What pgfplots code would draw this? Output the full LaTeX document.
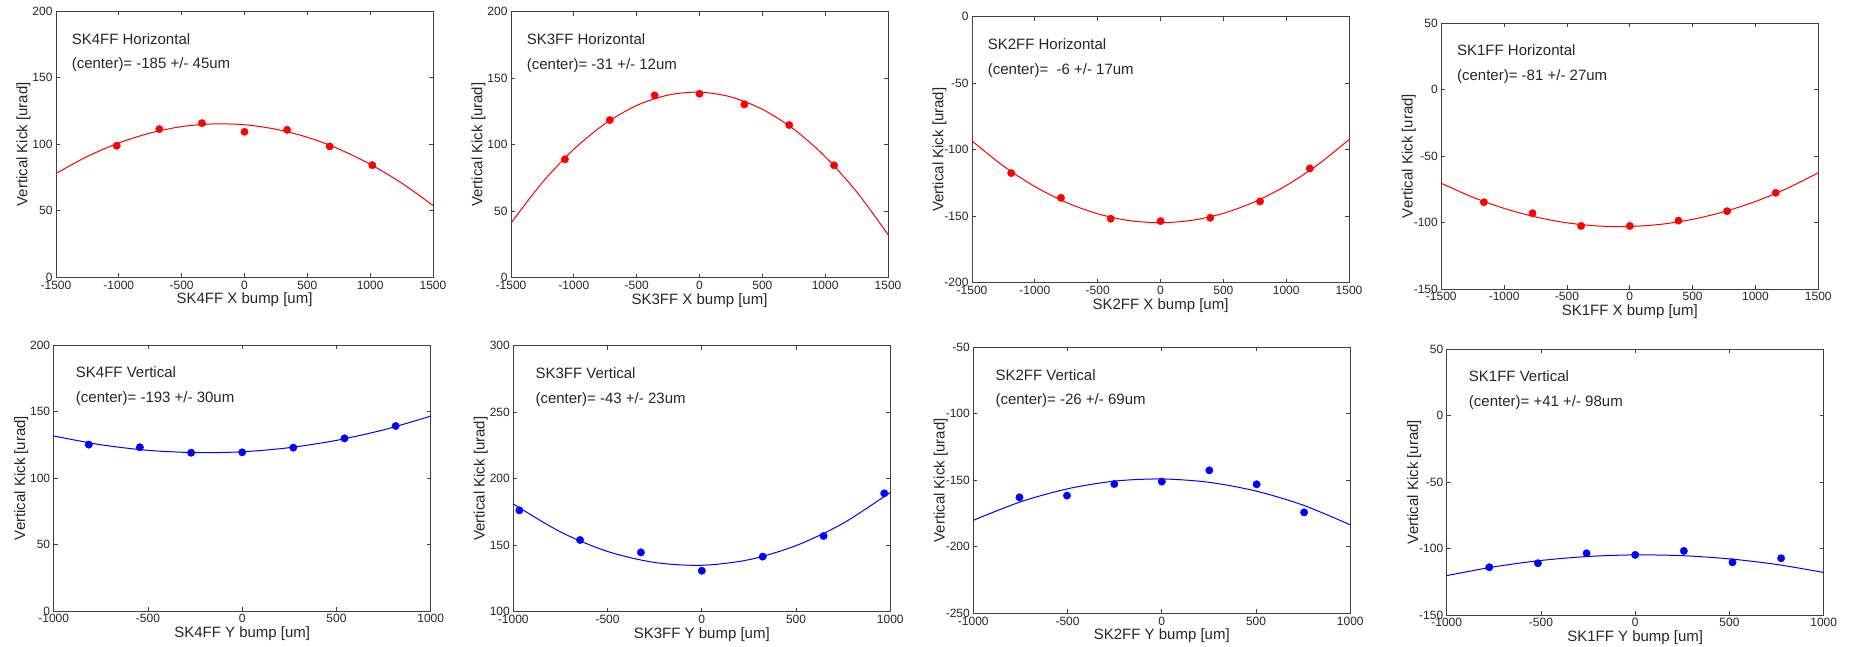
\documentclass[border=0pt]{standalone}
\usepackage{fontspec}
\setmainfont{Liberation Sans}
\usepackage{pgfplots}
\pgfplotsset{compat=1.18}
\definecolor{gpred}{RGB}{255,0,0}
\definecolor{gpblue}{RGB}{0,0,255}
\pgfplotsset{
  gp/.style={
    scale only axis, width=377pt, height=266pt, anchor=south west,
    axis line style={black!75, line width=0.9pt},
    tick style={black!75, line width=0.8pt},
    major tick length=4pt, tick align=inside,
    tick label style={font=\fontsize{12}{14}\selectfont, text=black!85},
    label style={font=\fontsize{15}{18}\selectfont, text=black!85},
    xlabel style={at={(axis description cs:0.5,-0.099)}, anchor=base},
    ylabel style={at={(axis description cs:-0.076,0.5)}, anchor=base},
    ylabel={Vertical Kick [urad]},
    /pgf/number format/assume math mode=true,
    /pgf/number format/1000 sep={},
    scaled ticks=false,
  },
  toprow/.style={gp, xmin=-1500, xmax=1500, xtick={-1500,-1000,...,1500}},
  botrow/.style={gp, xmin=-1000, xmax=1000, xtick={-1000,-500,...,1000}},
  pts/.style={only marks, mark=*, mark size=3.7pt, #1, mark options={draw=#1, fill=#1}},
  fit/.style={#1, line width=1pt, smooth, no markers},
}
\newcommand{\anno}[4]{%
  \node[anchor=base west, font=\fontsize{15}{18}\selectfont, text=black!85] at (axis description cs:#1,0.877) {#3};
  \node[anchor=base west, font=\fontsize{15}{18}\selectfont, text=black!85] at (axis description cs:#1,0.784) {#4};}
\begin{document}
\begin{tikzpicture}
\path[use as bounding box] (0pt,0pt) rectangle (1852pt,647pt);

% ---------- Top row ----------
\begin{axis}[toprow, at={(56pt,369.7pt)}, ymin=0, ymax=200, ytick={0,50,...,200}, xlabel={SK4FF X bump [um]}]
\addplot[fit=gpred] coordinates {(-1500,78.0)(-1250,90.9)(-1000,101.0)(-750,108.5)(-500,113.3)(-250,115.3)(0,114.7)(250,111.3)(500,105.3)(750,96.5)(1000,85.0)(1250,70.9)(1500,54.0)};
\addplot[pts=gpred] coordinates {(-1017,98.9)(-678,111.4)(-339,115.9)(0,109.4)(339,110.9)(678,98.4)(1017,84.3)};
\anno{0.0326}{}{SK4FF Horizontal}{(center)= -185 +/- 45um}
\end{axis}

\begin{axis}[toprow, at={(511pt,369.3pt)}, ymin=0, ymax=200, ytick={0,50,...,200}, xlabel={SK3FF X bump [um]}]
\addplot[fit=gpred] coordinates {(-1500,41.0)(-1250,71.7)(-1000,96.6)(-750,115.9)(-500,129.5)(-250,137.3)(0,139.5)(250,135.9)(500,126.6)(750,111.7)(1000,91.0)(1250,64.6)(1500,32.5)};
\addplot[pts=gpred] coordinates {(-1071,89.0)(-714,118.5)(-357,137.1)(0,138.3)(357,130.3)(714,114.8)(1071,84.5)};
\anno{0.0326}{}{SK3FF Horizontal}{(center)= -31 +/- 12um}
\end{axis}

\begin{axis}[toprow, at={(972pt,364.3pt)}, ymin=-200, ymax=0, ytick={-200,-150,...,0}, xlabel={SK2FF X bump [um]}]
\addplot[fit=gpred] coordinates {(-1500,-93.4)(-1250,-112.3)(-1000,-127.7)(-750,-139.65)(-500,-148.2)(-250,-153.3)(0,-154.9)(250,-153.1)(500,-147.85)(750,-139.15)(1000,-127.0)(1250,-111.4)(1500,-92.4)};
\addplot[pts=gpred] coordinates {(-1188,-117.6)(-792,-136.2)(-396,-151.9)(0,-153.7)(396,-151.2)(792,-138.9)(1188,-114.1)};
\anno{0.0326}{}{SK2FF Horizontal}{(center)=\ \ -6 +/- 17um}
\end{axis}

\begin{axis}[toprow, at={(1441.3pt,358pt)}, ymin=-150, ymax=50, ytick={-150,-100,...,50}, xlabel={SK1FF X bump [um]}]
\addplot[fit=gpred] coordinates {(-1500,-70.5)(-1250,-81.0)(-1000,-89.4)(-750,-95.85)(-500,-100.26)(-250,-102.64)(0,-102.99)(250,-101.33)(500,-97.63)(750,-91.92)(1000,-84.18)(1250,-74.42)(1500,-62.6)};
\addplot[pts=gpred] coordinates {(-1161,-84.8)(-774,-93.0)(-387,-102.6)(0,-102.6)(387,-98.6)(774,-91.5)(1161,-77.7)};
\anno{0.0326}{}{SK1FF Horizontal}{(center)= -81 +/- 27um}
\end{axis}

% ---------- Bottom row ----------
\begin{axis}[botrow, at={(53.7pt,36pt)}, ymin=0, ymax=200, ytick={0,50,...,200}, xlabel={SK4FF Y bump [um]}]
\addplot[fit=gpblue] coordinates {(-1000,131.6)(-750,125.0)(-500,120.8)(-250,119.1)(0,119.7)(250,122.8)(500,128.3)(750,136.2)(1000,146.5)};
\addplot[pts=gpblue] coordinates {(-814,125.1)(-543,123.1)(-271,119.0)(0,119.3)(271,122.8)(543,129.8)(814,139.1)};
\anno{0.0496}{}{SK4FF Vertical}{(center)= -193 +/- 30um}
\end{axis}

\begin{axis}[botrow, at={(513.3pt,35.3pt)}, ymin=100, ymax=300, ytick={100,150,...,300}, xlabel={SK3FF Y bump [um]}]
\addplot[fit=gpblue] coordinates {(-1000,181.0)(-750,160.0)(-500,145.3)(-250,137.0)(0,134.9)(250,139.1)(500,149.7)(750,166.5)(1000,189.7)};
\addplot[pts=gpblue] coordinates {(-968,176.2)(-646,153.9)(-323,144.6)(0,130.8)(323,141.4)(646,156.9)(968,189.0)};
\anno{0.0496}{}{SK3FF Vertical}{(center)= -43 +/- 23um}
\end{axis}

\begin{axis}[botrow, at={(973.3pt,33.7pt)}, ymin=-250, ymax=-50, ytick={-250,-200,...,-50}, xlabel={SK2FF Y bump [um]}]
\addplot[fit=gpblue] coordinates {(-1000,-180.1)(-750,-166.2)(-500,-156.4)(-250,-150.6)(0,-149.0)(250,-151.5)(500,-158.1)(750,-168.7)(1000,-183.5)};
\addplot[pts=gpblue] coordinates {(-755,-162.8)(-503,-161.5)(-252,-152.8)(0,-151.0)(252,-142.5)(503,-153.0)(755,-174.1)};
\anno{0.0496}{}{SK2FF Vertical}{(center)= -26 +/- 69um}
\end{axis}

\begin{axis}[botrow, at={(1446.7pt,32pt)}, ymin=-150, ymax=50, ytick={-150,-100,...,50}, xlabel={SK1FF Y bump [um]}]
\addplot[fit=gpblue] coordinates {(-1000,-120.4)(-750,-113.8)(-500,-109.0)(-250,-106.0)(0,-104.8)(250,-105.4)(500,-107.8)(750,-112.0)(1000,-118.0)};
\addplot[pts=gpblue] coordinates {(-774,-114.1)(-516,-111.1)(-258,-103.6)(0,-104.8)(258,-101.8)(516,-110.4)(774,-107.3)};
\anno{0.0496}{}{SK1FF Vertical}{(center)= +41 +/- 98um}
\end{axis}
\end{tikzpicture}
\end{document}
